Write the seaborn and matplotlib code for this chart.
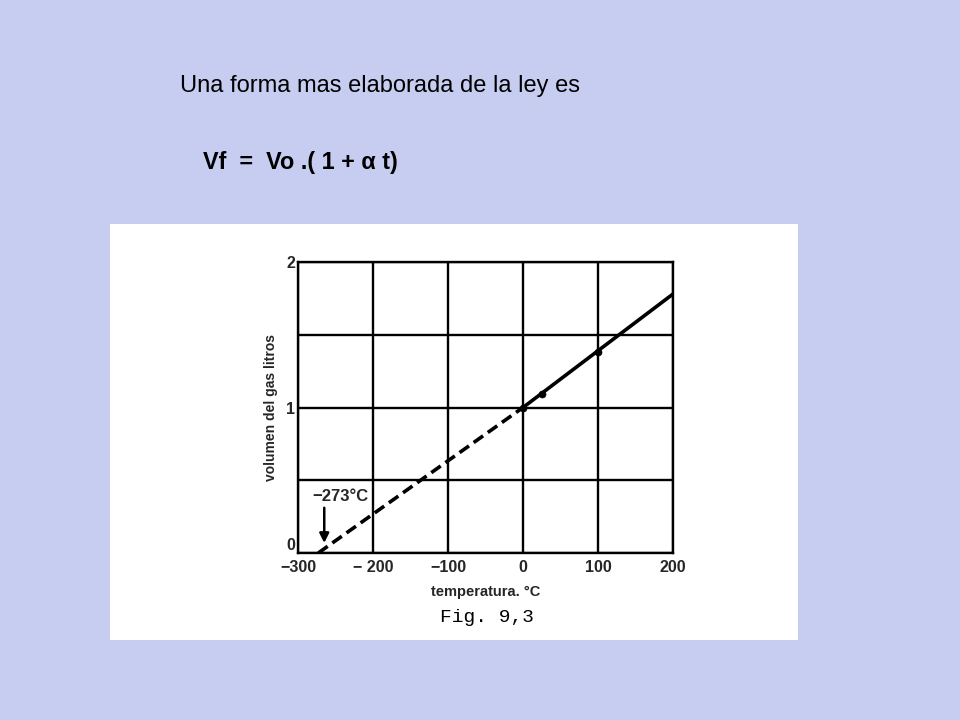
import matplotlib
matplotlib.use("Agg")
import matplotlib.pyplot as plt
import seaborn as sns
import pandas as pd
from matplotlib.patches import Rectangle

# ---- data ----
temp_extrapolated = [-273, 0]        # °C, dashed part
vol_extrapolated = [0.0, 1.0]        # litres
temp_measured = [0, 200]             # °C, solid part
vol_measured = [1.0, 1.78]
point_temp = [0, 25, 100]
point_vol = [1.0, 1.09, 1.38]
x_ticks = [-300, -200, -100, 0, 100, 200]
x_tick_labels = ["\u2212300", "\u2212 200", "\u2212100", "0", "100", "200"]
y_ticks = [0, 1, 2]
y_grid = [0, 0.5, 1, 1.5, 2]

title_text = "Una forma mas elaborada de la ley es"
formula_text = "Vf  =  Vo .( 1 + \u03b1 t)"

sns.set_theme(style="white")
plt.rcParams['font.family'] = ['Liberation Sans', 'DejaVu Sans']

fig = plt.figure(figsize=(9.6, 7.2), dpi=100)
fig.patch.set_facecolor("#c6cdf0")

# white card behind the chart
card = Rectangle((110 / 960, 1 - 640 / 720), (798 - 110) / 960, (640 - 224) / 720,
                 transform=fig.transFigure, facecolor="white", edgecolor="none", zorder=-5)
fig.patches.append(card)

fig.text(180 / 960, 1 - 86 / 720, title_text, fontsize=17, color="black", va="center", ha="left")
fig.text(203 / 960, 1 - 162 / 720, formula_text, fontsize=16.8, fontweight="bold", color="black",
         va="center", ha="left")

ax = fig.add_axes([298 / 960, 1 - 553 / 720, (673 - 298) / 960, (553 - 262) / 720])
ax.set_zorder(2)
ax.set_facecolor("white")

df_dash = pd.DataFrame({"t": temp_extrapolated, "v": vol_extrapolated})
df_solid = pd.DataFrame({"t": temp_measured, "v": vol_measured})
df_pts = pd.DataFrame({"t": point_temp, "v": point_vol})

sns.lineplot(data=df_dash, x="t", y="v", ax=ax, color="black", linewidth=2.6,
             linestyle=(0, (3.2, 1.6)), zorder=3)
sns.lineplot(data=df_solid, x="t", y="v", ax=ax, color="black", linewidth=2.6, zorder=3)
sns.scatterplot(data=df_pts, x="t", y="v", ax=ax, color="black", s=26, edgecolor="black", zorder=4)

ax.set_xlim(-300, 200)
ax.set_ylim(0, 2)
for xv in x_ticks:
    ax.axvline(xv, color="black", linewidth=1.7, zorder=1)
for yv in y_grid:
    ax.axhline(yv, color="black", linewidth=1.7, zorder=1)

ax.set_xticks(x_ticks)
ax.set_xticklabels(x_tick_labels, fontsize=11.5, fontweight="bold")
ax.set_yticks(y_ticks)
ax.set_yticklabels([str(v) for v in y_ticks], fontsize=11.5, fontweight="bold")
ax.get_yticklabels()[0].set_va("bottom")
ax.tick_params(axis="x", length=0, pad=5)
ax.tick_params(axis="y", length=0, pad=2)
for s in ax.spines.values():
    s.set_color("black")
    s.set_linewidth(1.7)

ax.set_xlabel("temperatura. \u00b0C", fontsize=10.5, fontweight="bold", labelpad=7)
ax.set_ylabel("volumen del gas litros", fontsize=10, fontweight="bold", labelpad=6)

ax.annotate("", xy=(-265, 0.05), xytext=(-265, 0.33),
            arrowprops=dict(arrowstyle="-|>", color="black", lw=1.8, mutation_scale=14))
ax.text(-281, 0.385, "\u2212273\u00b0C", fontsize=12, fontweight="bold", ha="left", va="center")

fig.text(440 / 960, 1 - 618 / 720, "Fig. 9,3", fontsize=14, family=["Liberation Mono", "DejaVu Sans Mono"],
         ha="left", va="center", color="black")

fig.savefig("out.png", dpi=100, facecolor=fig.get_facecolor())
